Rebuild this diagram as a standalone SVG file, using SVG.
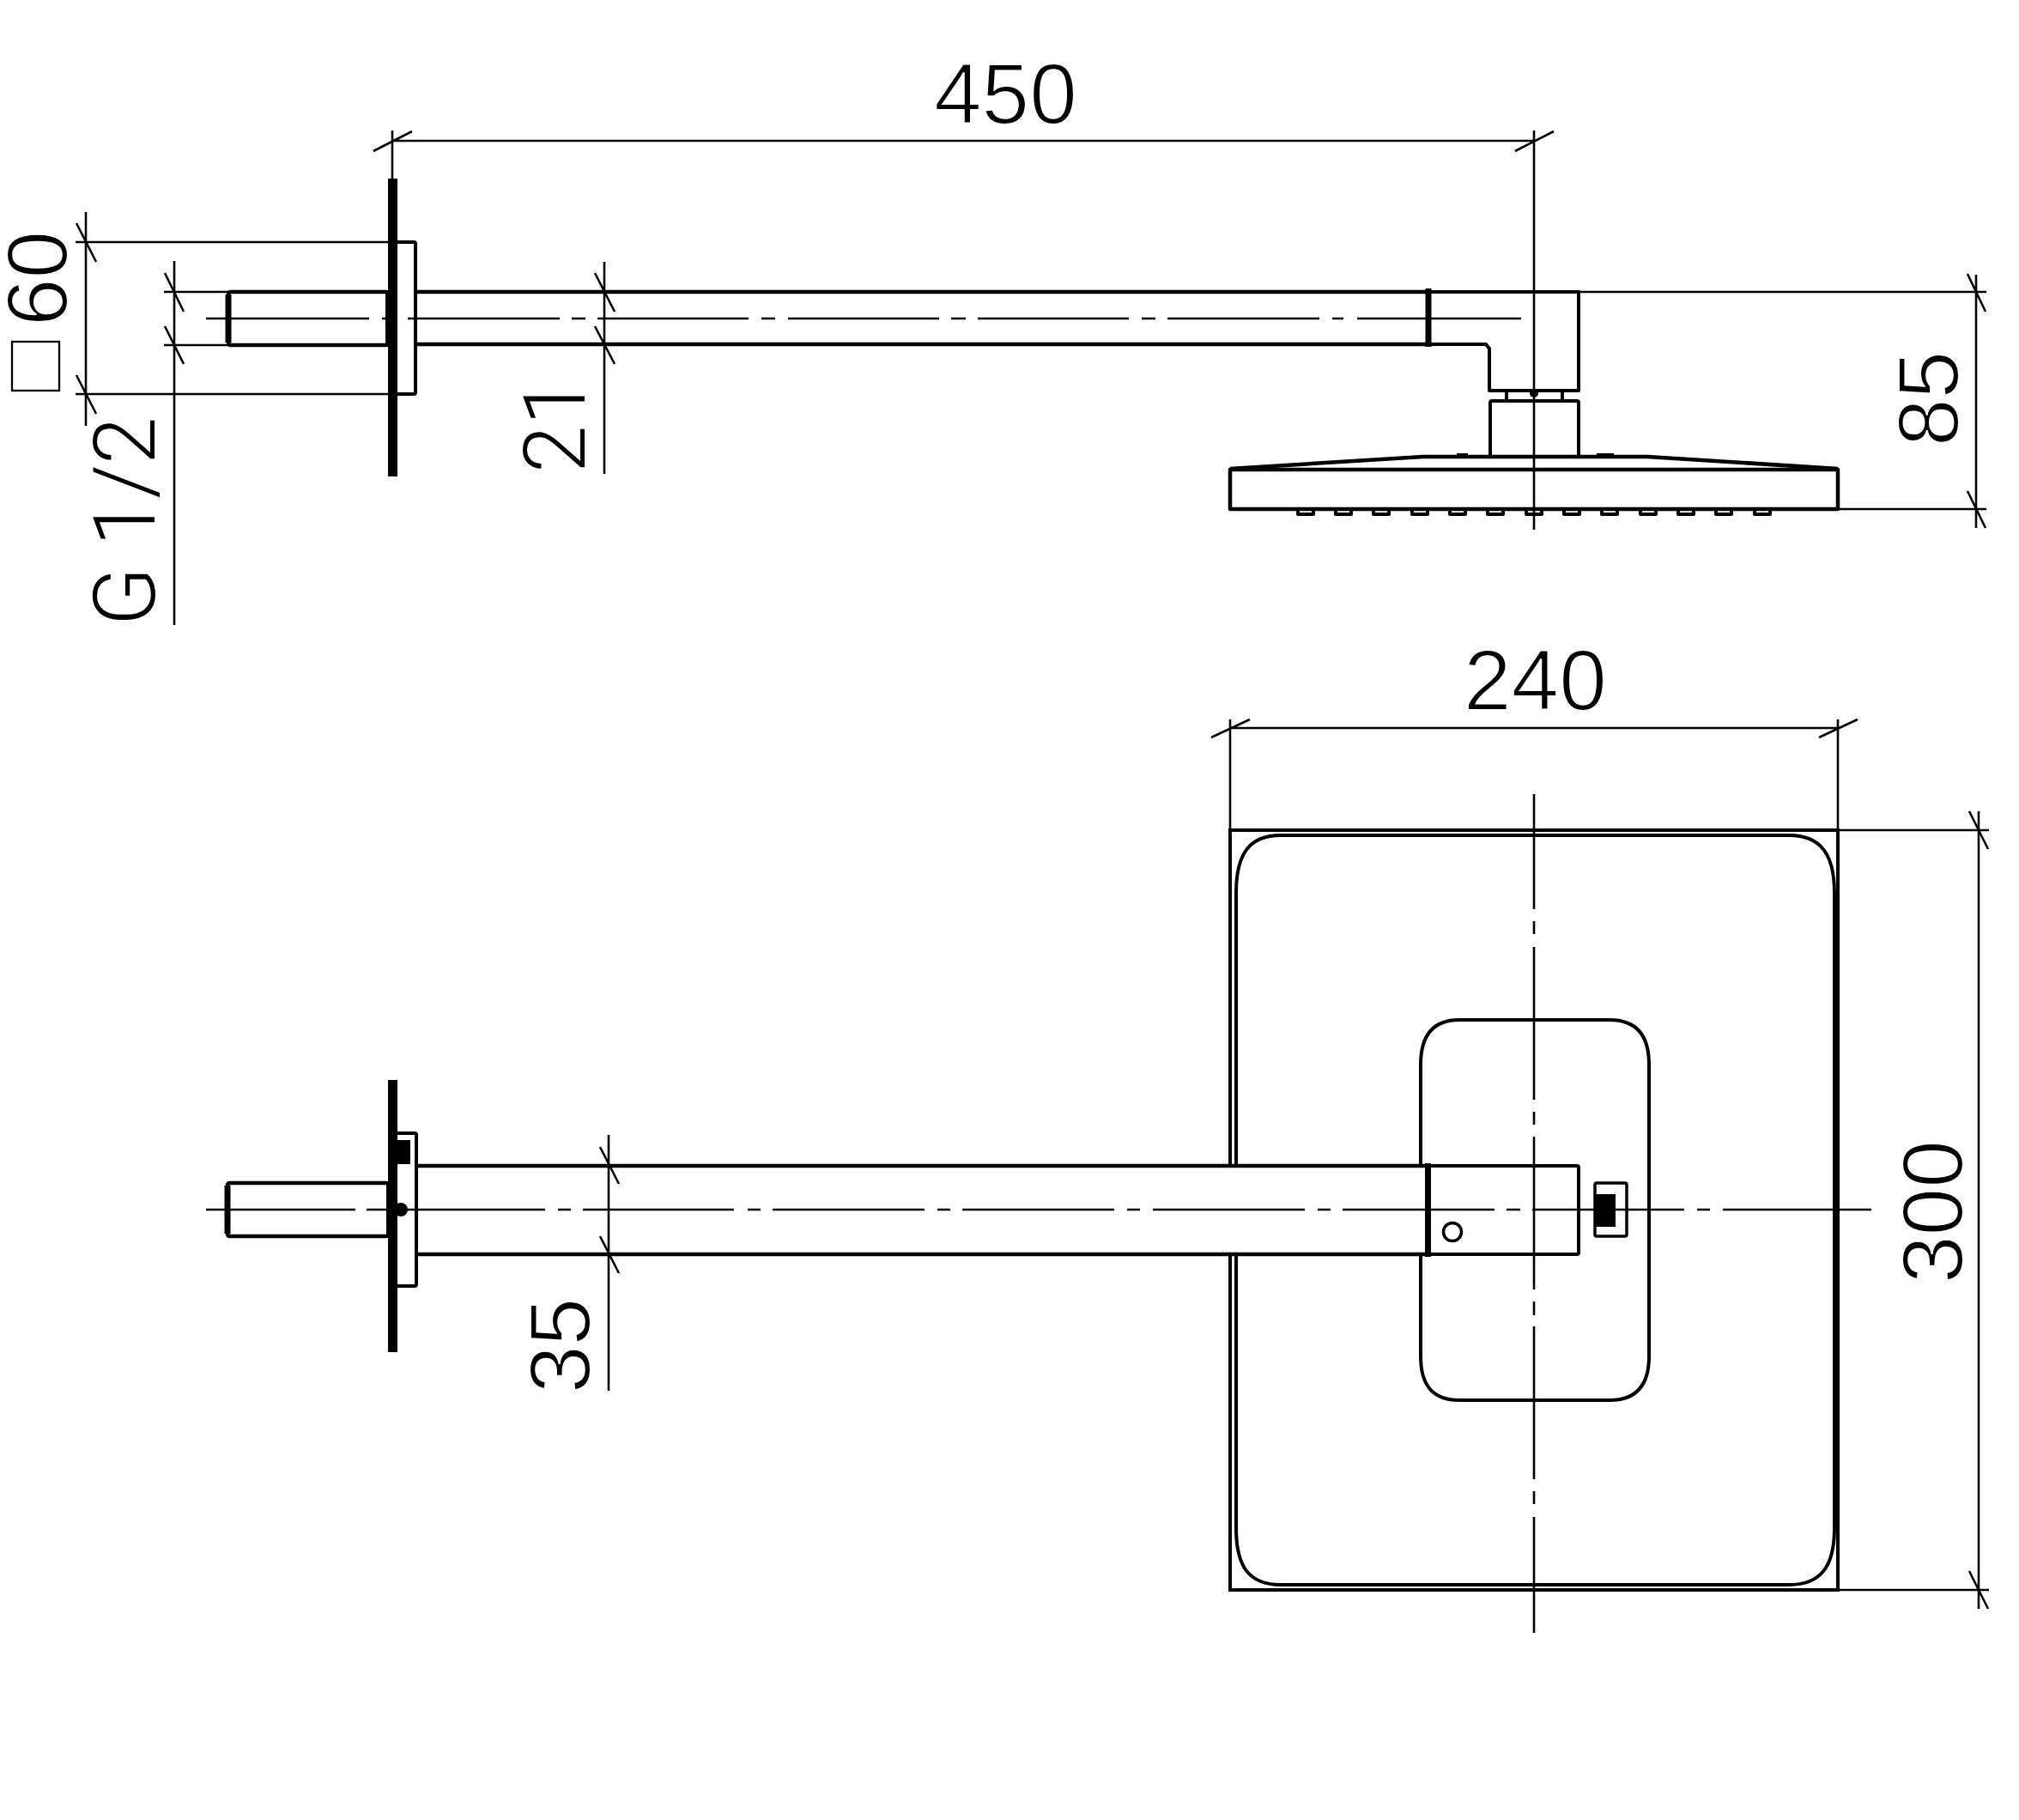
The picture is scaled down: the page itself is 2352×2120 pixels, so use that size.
<svg xmlns="http://www.w3.org/2000/svg" width="2352" height="2120" viewBox="0 0 2352 2120">
<style>
text{font-family:"Liberation Sans",Arimo,sans-serif;font-size:100px;fill:#000;stroke:#fff;stroke-width:2}
text.r{font-family:Roboto,"Liberation Sans",sans-serif;font-weight:300;font-size:100px;stroke:none}
.d{stroke:#000;stroke-width:2.600;fill:none}
.c{stroke:#000;stroke-width:2.600;fill:none}
.o{stroke:#000;stroke-width:4.500;fill:none;stroke-linejoin:round}
.t{stroke:#000;stroke-width:4;fill:none;stroke-linejoin:round}
.h{stroke:#000;stroke-width:7;fill:none}
.b{fill:#000;stroke:none}
</style>
<rect width="2352" height="2120" fill="#fff"/>
<g id="side-view">
<path class="c" d="M240 371H430M445 371H458M475 371H652M666 371H682M696 371H872M887 371H903M918 371H1094M1108 371H1125M1139 371H1315M1330 371H1346M1360 371H1537M1552 371H1565M1581 371H1772"/>
<path class="o" d="M485 340H1661M485 401H1661"/>
<path class="h" d="M1664 336V404"/>
<path class="o" d="M450 340H269Q266 340 266 343V399Q266 402 269 402H450"/>
<path class="h" d="M266 343V399"/>
<rect class="b" x="449" y="338" width="6" height="66"/>
<rect class="b" x="452" y="208" width="11" height="347"/>
<path class="t" d="M463 282H482Q484 282 484 284V457Q484 459 482 459H463"/>
<path class="t" d="M1667 340H1839V455H1735V406L1731 401H1667"/>
<path class="t" d="M1755 455V467M1820 455V467"/>
<path class="t" d="M1736 532V469Q1736 467 1738 467H1837Q1839 467 1839 469V532"/>
<circle class="b" cx="1787" cy="458" r="5"/>
<path class="o" d="M1433 546L1658 532H1919L2141 546"/>
<path class="b" d="M1697 528H1710V532H1697ZM1860 528H1880V532H1860Z"/>
<path class="o" d="M1433 547H2141V593H1433Z"/>
<path id="nozzles" class="t" d="M1512 594V599H1530V594M1556 594V599H1574V594M1600 594V599H1618V594M1645 594V599H1663V594M1689 594V599H1707V594M1733 594V599H1751V594M1778 594V599H1796V594M1822 594V599H1840V594M1866 594V599H1884V594M1911 594V599H1929V594M1955 594V599H1973V594M1999 594V599H2017V594M2044 594V599H2062V594"/>
</g>
<g id="top-view">
<rect x="1433" y="967" width="708" height="885" fill="none" stroke="#000" stroke-width="4"/>
<path class="t" d="M1440 1357V1040C1440 995 1455 973 1492 973H2084C2121 973 2137 995 2137 1040V1780C2137 1825 2121 1846 2084 1846H1492C1455 1846 1440 1825 1440 1780V1461"/>
<path class="t" fill="#fff" d="M1655 1358V1240C1655 1205 1670 1188 1700 1188H1875C1905 1188 1921 1205 1921 1240V1580C1921 1615 1905 1631 1875 1631H1700C1670 1631 1655 1615 1655 1580V1461"/>
<rect x="486" y="1358" width="1174" height="103" fill="#fff"/>
<path class="c" d="M240 1409H414M427 1409H443M443 1409H635M650 1409H665M679 1409H855M871 1409H886M900 1409H1077M1092 1409H1107M1121 1409H1298M1313 1409H1328M1343 1409H1520M1535 1409H1550M1564 1409H1741M1755 1409H1771M1785 1409H1962M1977 1409H1992M2007 1409H2180"/>
<path class="c" d="M1787 925V1059M1787 1073V1088M1787 1103V1281M1787 1295V1310M1787 1324V1502M1787 1516V1532M1787 1545V1723M1787 1737V1752M1787 1767V1902"/>
<path class="o" d="M485 1358H1660M485 1461H1660"/>
<rect class="b" x="1660" y="1355" width="7" height="109"/>
<path class="t" d="M1667 1358H1837Q1839 1358 1839 1360V1459Q1839 1461 1837 1461H1667"/>
<circle cx="1692" cy="1435" r="10.500" fill="none" stroke="#000" stroke-width="3.500"/>
<rect x="1858" y="1378" width="37" height="62" rx="2" fill="none" stroke="#000" stroke-width="3.500"/>
<rect class="b" x="1858" y="1391" width="24" height="38"/>
<path class="o" d="M450 1378H268Q265 1378 265 1381V1437Q265 1440 268 1440H450"/>
<path class="h" d="M265 1381V1437"/>
<rect class="b" x="450" y="1376" width="6" height="66"/>
<rect class="b" x="452" y="1258" width="11" height="317"/>
<path class="t" d="M463 1320H483Q485 1320 485 1322V1496Q485 1498 483 1498H463"/>
<rect class="b" x="463" y="1328" width="15" height="28"/>
<circle class="b" cx="467" cy="1409" r="8"/>
</g>
<g id="connectors">
<path class="d" d="M457 152V208M457 164H1787M435 176L480 153M1787 152V617M1765 176L1810 153"/>
<path class="d" d="M88 282H452M88 459H452M100 247V496M89 260L112 305M89 437L112 482"/>
<path class="d" d="M191 340H265M191 402H265M203 304V728M192 318L214 363M192 380L214 424"/>
<path class="d" d="M704 305V552M693 318L716 363M693 380L716 424"/>
<path class="d" d="M1839 340H2314M2141 593H2314M2302 320V615M2292 319L2313 363M2292 572L2313 615"/>
<path class="d" d="M1433 838V967M2141 838V967M1432 848H2141M1411 859L1456 838M2119 859L2164 838"/>
<path class="d" d="M2141 967H2317M2141 1852H2317M2305 945V1874M2294 945L2316 989M2294 1830L2316 1874"/>
<path class="d" d="M709 1322V1620M699 1336L721 1379M699 1440L721 1483"/>
</g>
<g id="labels">
<text x="1088" y="144">450</text>
<text x="1705" y="827">240</text>
<text transform="translate(78 380) rotate(-90)">60</text>
<rect x="14" y="398" width="55" height="57" fill="none" stroke="#000" stroke-width="2.300"/>
<text class="r" transform="translate(180 729) rotate(-90)">G 1/2</text>
<text class="r" transform="translate(681 551) rotate(-90)">21</text>
<text transform="translate(2281 520) rotate(-90)">85</text>
<text transform="translate(2286 1495) rotate(-90)">300</text>
<text transform="translate(687 1623) rotate(-90)">35</text>
</g>
</svg>
